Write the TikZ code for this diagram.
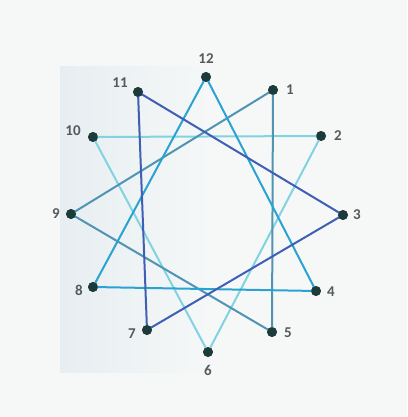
\documentclass[tikz,border=0pt]{standalone}
\usepackage{fontspec}
\setmainfont{Carlito}
\begin{document}
\begin{tikzpicture}[x=1pt,y=-1pt,
  dot/.style={circle,fill=dotc,inner sep=0pt,minimum size=10pt},
  lab/.style={font=\bfseries\fontsize{15}{15}\selectfont,text=labc,inner sep=1pt},
  tri/.style={line width=2pt,line join=miter}]
\definecolor{bgc}{HTML}{F6F8F8}
\definecolor{panelc}{HTML}{E7EEF1}
\definecolor{dotc}{HTML}{1E3B3C}
\definecolor{labc}{HTML}{555A5C}
\definecolor{ca}{HTML}{3F5FB5}
\definecolor{cb}{HTML}{2AA3D3}
\definecolor{cc}{HTML}{5094B3}
\definecolor{cd}{HTML}{82D3E2}
\fill[bgc] (0,0) rectangle (407,417);
\useasboundingbox (0,0) rectangle (407,417);
\shade[left color=panelc,right color=bgc] (60,67) rectangle (215,372);
% dots
\node[dot] (p12) at (206,77) {};
\node[dot] (p1) at (273,90) {};
\node[dot] (p2) at (321,136) {};
\node[dot] (p3) at (343,215) {};
\node[dot] (p4) at (316,291) {};
\node[dot] (p5) at (272,332) {};
\node[dot] (p6) at (208,352) {};
\node[dot] (p7) at (147,330) {};
\node[dot] (p8) at (93,287) {};
\node[dot] (p9) at (71,214) {};
\node[dot] (p10) at (93,137) {};
\node[dot] (p11) at (138,92) {};
% triangles
\draw[tri,cd] (p10.center) -- (p2.center) -- (p6.center) -- cycle;
\draw[tri,cc] (p1.center) -- (p5.center) -- (p9.center) -- cycle;
\draw[tri,cb] (p12.center) -- (p4.center) -- (p8.center) -- cycle;
\draw[tri,ca] (p11.center) -- (p3.center) -- (p7.center) -- cycle;
% redraw dots on top
\foreach \p in {p1,p2,p3,p4,p5,p6,p7,p8,p9,p10,p11,p12}
  \fill[dotc] (\p) circle (4.8pt);
% labels
\node[lab] (l12) at (206,59) {12};
\node[lab] (l1) at (290,90) {1};
\node[lab] (l2) at (338,136) {2};
\node[lab] (l3) at (357,215) {3};
\node[lab] (l4) at (331,292) {4};
\node[lab] (l5) at (288,333) {5};
\node[lab] (l6) at (208,370) {6};
\node[lab] (l7) at (132,334) {7};
\node[lab] (l8) at (79,290) {8};
\node[lab] (l9) at (56,214) {9};
\node[lab] (l10) at (73,131) {10};
\node[lab] (l11) at (120,83) {11};
\end{tikzpicture}
\end{document}
